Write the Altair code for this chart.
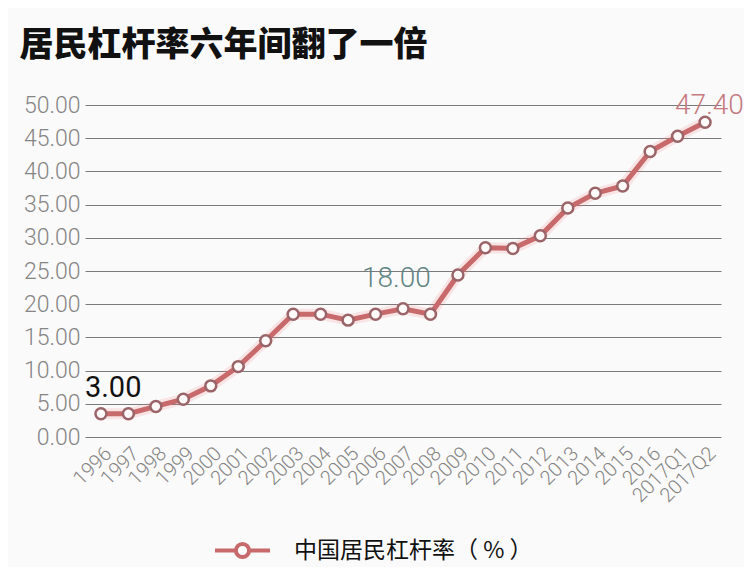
import altair as alt
import pandas as pd

years = ["1996", "1997", "1998", "1999", "2000", "2001", "2002", "2003", "2004",
         "2005", "2006", "2007", "2008", "2009", "2010", "2011", "2012", "2013",
         "2014", "2015", "2016", "2017Q1", "2017Q2"]
values = [3.5, 3.5, 4.6, 5.7, 7.7, 10.6, 14.5, 18.5, 18.5, 17.6, 18.5, 19.3, 18.5,
          24.4, 28.5, 28.4, 30.3, 34.5, 36.7, 37.8, 43.0, 45.3, 47.4]
series_name = "中国居民杠杆率（ % ）"

ann_year = ["1996", "2007", "2017Q2"]
ann_text = ["3.00", "18.00", "47.40"]
ann_color = ["#111111", "#5f8584", "#c47a80"]
ann_dx = [-16, -41, -30]
ann_dy = [-17, -22, -8]

df = pd.DataFrame({"year": years, "value": values, "series": series_name})
ann = pd.DataFrame({"year": ann_year, "text": ann_text,
                    "value": [values[years.index(y)] for y in ann_year]})

LINE = "#c8696b"
xs = alt.X("year:O", sort=years, scale=alt.Scale(type="point", padding=0.58),
           axis=alt.Axis(title=None, labelAngle=-45, labelFontSize=20, labelColor="#858585",
                         labelFont="Roboto", labelFontWeight=300, ticks=False, domain=False,
                         labelPadding=6, grid=False))
ys = alt.Y("value:Q", scale=alt.Scale(domain=[0, 50], nice=False),
           axis=alt.Axis(title=None, values=[0, 5, 10, 15, 20, 25, 30, 35, 40, 45, 50],
                         format=".2f", labelFontSize=23, labelColor="#858585",
                         labelFont="Roboto", labelFontWeight=300, ticks=False, domain=False,
                         labelPadding=5, gridColor="#7a7a7a", gridWidth=1))

sym = "M-1,0H-0.24 M0.24,0H1 M0.24,0A0.24,0.24 0 1,1 -0.24,0A0.24,0.24 0 1,1 0.24,0Z"

base = alt.Chart(df)
glow = base.mark_line(strokeWidth=11, opacity=0.18, color="#f08080").encode(x=xs, y=ys)
line = base.mark_line(strokeWidth=5).encode(
    x=xs, y=ys,
    color=alt.Color("series:N", scale=alt.Scale(range=[LINE]),
                    legend=alt.Legend(title=None, orient="none", legendX=128, legendY=416,
                                      symbolType=sym, symbolSize=3025, symbolStrokeWidth=4,
                                      symbolFillColor="white", labelFontSize=23,
                                      labelFont="Noto Sans CJK SC", labelColor="#111111",
                                      labelOffset=22, labelLimit=400, padding=0)))
pts = base.mark_point(filled=False, fill="#fffafa", stroke="#9a6468", strokeWidth=2.5,
                      size=120, opacity=1).encode(x=xs, y=ys)

texts = []
for i in range(len(ann_year)):
    t = alt.Chart(ann.iloc[[i]]).mark_text(
        align="left", baseline="alphabetic", fontSize=29 if i == 0 else 28, font="Roboto",
        fontWeight=300 if i else 400, color=ann_color[i], dx=ann_dx[i], dy=ann_dy[i]
    ).encode(x=xs, y=ys, text="text:N")
    texts.append(t)

chart = alt.layer(glow, line, pts, *texts).properties(
    width=636, height=332,
    title=alt.TitleParams("居民杠杆率六年间翻了一倍", anchor="start", fontSize=34,
                          font="Noto Sans CJK SC", fontWeight=900, color="#111111",
                          frame="bounds", dx=-4, offset=29),
    autosize=alt.AutoSizeParams(type="none"),
    padding={"left": 77, "top": 97, "right": 23, "bottom": 130},
    background="#fbfafa",
).configure_view(stroke=None)

chart.save("out.html", embed_options={"renderer": "svg", "actions": False})
